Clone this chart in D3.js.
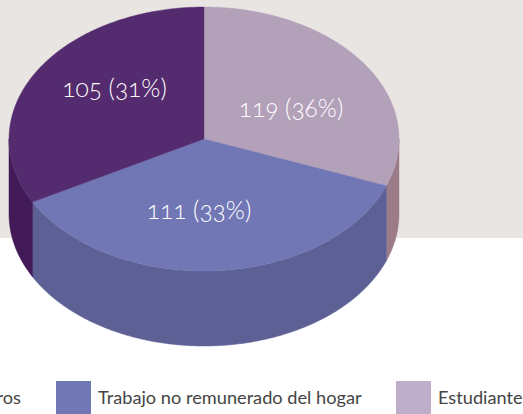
<!DOCTYPE html>
<html>
<head>
<meta charset="utf-8">
<style>
html,body{margin:0;padding:0;background:#fff;overflow:hidden}
svg{display:block}
text{font-family:"Lato","Open Sans",sans-serif;font-feature-settings:"onum" 1}
</style>
<script src="https://cdn.jsdelivr.net/npm/d3@7/dist/d3.min.js"></script>
</head>
<body>
<script>
const categories = ["Estudiante", "Trabajo no remunerado del hogar", "Otros"];
const values = [119, 111, 105];
const percents = [36, 33, 31];
const topColors = ["#b3a0b9", "#7177b5", "#542b6e"];
const wallColors = ["#9b7b88", "#5c6094", "#431a58"];
const legendColors = ["#bfaec9", "#7177b5", "#542b6e"];
const drawnAngles = [0, 110.8, 241.5, 360];
const legendOrder = [2, 1, 0];
const legendSwatchX = [-290, 56, 396];

const W = 523, H = 414, cx = 204, cy = 139, rx = 195, ry = 132, depth = 75;
const svg = d3.select("body").append("svg").attr("width", W).attr("height", H);
svg.append("rect").attr("width", W).attr("height", 238).attr("fill", "#e9e5e2");

const cum = d3.cumsum(values);
const angle = d3.scaleLinear().domain([0, ...cum]).range(drawnAngles);
const sx = d3.scaleLinear().domain([-1, 1]).range([cx - rx, cx + rx]);
const sy = d3.scaleLinear().domain([-1, 1]).range([cy - ry, cy + ry]);
const pt = (deg, dz = 0) => {
  const t = deg * Math.PI / 180;
  return [sx(Math.sin(t)), sy(-Math.cos(t)) + dz];
};
const arcPts = (a0, a1, dz = 0) => {
  const n = Math.max(2, Math.ceil(Math.abs(a1 - a0) * 2));
  return d3.range(n + 1).map(i => pt(a0 + (a1 - a0) * i / n, dz));
};
const line = d3.line();

const slices = values.map((v, i) => {
  const start = i === 0 ? 0 : cum[i - 1];
  return {a0: angle(start), a1: angle(cum[i]), i};
});

// walls: only the front half (90..270 degrees) is visible
slices.forEach(s => {
  const a0 = Math.max(s.a0, 90), a1 = Math.min(s.a1, 270);
  if (a1 <= a0) return;
  const pts = arcPts(a0, a1).concat(arcPts(a1, a0, depth));
  svg.append("path").attr("d", line(pts) + "Z")
    .attr("fill", wallColors[s.i])
    .attr("stroke", wallColors[s.i]).attr("stroke-width", 0.5);
});

// top face
slices.forEach(s => {
  const pts = [[cx, cy]].concat(arcPts(s.a0, s.a1));
  svg.append("path").attr("d", line(pts) + "Z")
    .attr("fill", topColors[s.i])
    .attr("stroke", topColors[s.i]).attr("stroke-width", 0.4);
});

// value labels
const labelPos = [[291, 108], [199, 210], [114.5, 88]];
values.forEach((v, i) => {
  svg.append("text")
    .attr("x", labelPos[i][0]).attr("y", labelPos[i][1])
    .attr("dy", "0.35em").attr("text-anchor", "middle")
    .attr("font-weight", 300)
    .attr("font-size", 24.5).attr("fill", "#fff")
    .text(`${v} (${percents[i]}%)`);
});

// legend
const legY = 381, sw = 35, swH = 33;
legendOrder.forEach((c, k) => {
  const x = legendSwatchX[k];
  svg.append("rect").attr("x", x).attr("y", legY).attr("width", sw).attr("height", swH)
    .attr("fill", legendColors[c]);
  svg.append("text").attr("x", c === 2 ? 21 : x + sw + 7).attr("y", 398)
    .attr("dy", "0.35em").attr("text-anchor", c === 2 ? "end" : "start")
    .attr("font-size", 18.2).attr("fill", "#444")
    .text(categories[c]);
});
</script>
</body>
</html>
